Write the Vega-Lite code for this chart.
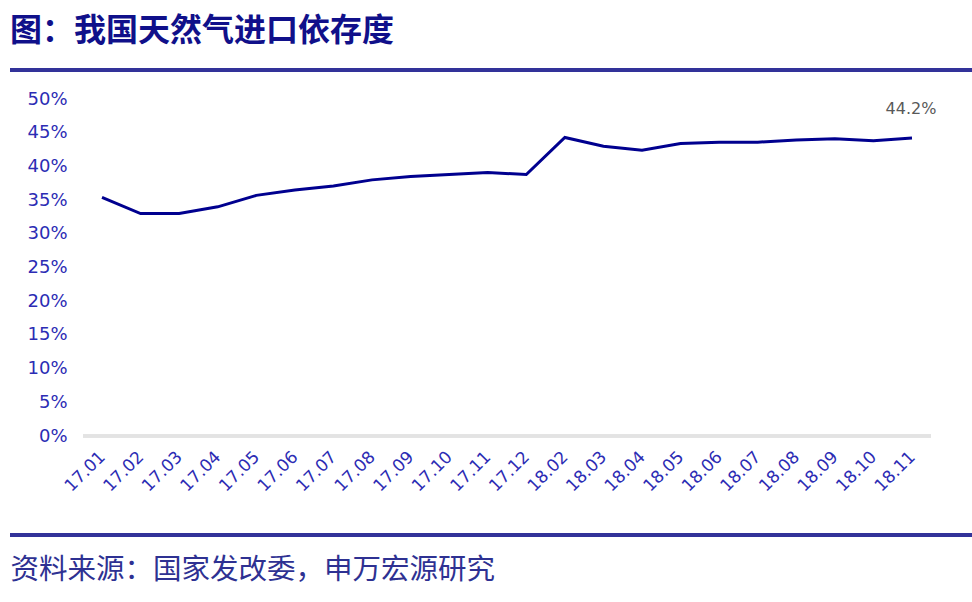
{
  "$schema": "https://vega.github.io/schema/vega-lite/v6.json",
  "width": 962,
  "height": 337,
  "autosize": {"type": "none"},
  "padding": {"left": 10, "top": 99, "right": 0, "bottom": 166},
  "background": "white",
  "title": {
    "text": "图：我国天然气进口依存度",
    "anchor": "start",
    "frame": "group",
    "font": "Noto Sans CJK SC",
    "fontSize": 32,
    "fontWeight": "bold",
    "color": "#10108a",
    "offset": 21
  },
  "config": {"view": {"stroke": null}},
  "data": {
    "values": [
      {"month": "17.01", "ratio": 0.354},
      {"month": "17.02", "ratio": 0.330},
      {"month": "17.03", "ratio": 0.330},
      {"month": "17.04", "ratio": 0.340},
      {"month": "17.05", "ratio": 0.357},
      {"month": "17.06", "ratio": 0.365},
      {"month": "17.07", "ratio": 0.371},
      {"month": "17.08", "ratio": 0.380},
      {"month": "17.09", "ratio": 0.385},
      {"month": "17.10", "ratio": 0.388},
      {"month": "17.11", "ratio": 0.391},
      {"month": "17.12", "ratio": 0.388},
      {"month": "18.02", "ratio": 0.443},
      {"month": "18.03", "ratio": 0.430},
      {"month": "18.04", "ratio": 0.424},
      {"month": "18.05", "ratio": 0.434},
      {"month": "18.06", "ratio": 0.436},
      {"month": "18.07", "ratio": 0.436},
      {"month": "18.08", "ratio": 0.439},
      {"month": "18.09", "ratio": 0.441},
      {"month": "18.10", "ratio": 0.438},
      {"month": "18.11", "ratio": 0.442}
    ]
  },
  "encoding": {
    "x": {
      "field": "month",
      "type": "ordinal",
      "sort": null,
      "scale": {
        "type": "point",
        "range": [92, 902],
        "padding": 0,
        "domain": ["17.01", "17.02", "17.03", "17.04", "17.05", "17.06", "17.07", "17.08", "17.09", "17.10", "17.11", "17.12", "18.02", "18.03", "18.04", "18.05", "18.06", "18.07", "18.08", "18.09", "18.10", "18.11"]
      },
      "axis": {
        "labelAngle": -45,
        "labelAlign": "right",
        "labelBaseline": "middle",
        "labelPadding": 18,
        "labelFont": "DejaVu Sans",
        "labelFontSize": 17,
        "labelColor": "#2c2cb4",
        "labelOverlap": false,
        "domain": false,
        "ticks": false,
        "tickSize": 0,
        "grid": false,
        "title": "资料来源：国家发改委，申万宏源研究",
        "titleFont": "Noto Sans CJK SC",
        "titleFontSize": 28.5,
        "titleFontWeight": "normal",
        "titleColor": "#2e3192",
        "titleAnchor": "start",
        "titleAlign": "left",
        "titleBaseline": "middle",
        "titleX": 0,
        "titleY": 133
      }
    },
    "y": {
      "field": "ratio",
      "type": "quantitative",
      "scale": {"domain": [0, 0.5], "nice": false, "zero": true},
      "axis": {
        "values": [0, 0.05, 0.1, 0.15, 0.2, 0.25, 0.3, 0.35, 0.4, 0.45, 0.5],
        "format": ".0%",
        "offset": -57,
        "labelPadding": 0,
        "tickSize": 0,
        "ticks": false,
        "domain": false,
        "grid": false,
        "labelFont": "DejaVu Sans",
        "labelFontSize": 18,
        "labelColor": "#2c2cb4",
        "title": null
      }
    }
  },
  "layer": [
    {
      "mark": {"type": "rule", "color": "#e3e3e3", "strokeWidth": 3, "xOffset": -19, "x2Offset": 19},
      "encoding": {
        "x": {"datum": "17.01", "type": "ordinal"},
        "x2": {"datum": "18.11"},
        "y": {"datum": 0, "type": "quantitative"}
      }
    },
    {
      "mark": {"type": "rule", "color": "#333399", "strokeWidth": 3},
      "encoding": {
        "x": null,
        "y": {"datum": 0.543, "type": "quantitative"}
      }
    },
    {
      "mark": {"type": "rule", "color": "#333399", "strokeWidth": 3},
      "encoding": {
        "x": null,
        "y": {"datum": -0.1469, "type": "quantitative"}
      }
    },
    {
      "mark": {"type": "line", "color": "#00008f", "strokeWidth": 3}
    },
    {
      "transform": [{"filter": "datum.month === '18.11'"}],
      "mark": {"type": "text", "font": "DejaVu Sans", "fontSize": 16, "color": "#595959", "dy": -29, "dx": -1},
      "encoding": {
        "text": {"field": "ratio", "type": "quantitative", "format": ".1%"}
      }
    }
  ]
}
